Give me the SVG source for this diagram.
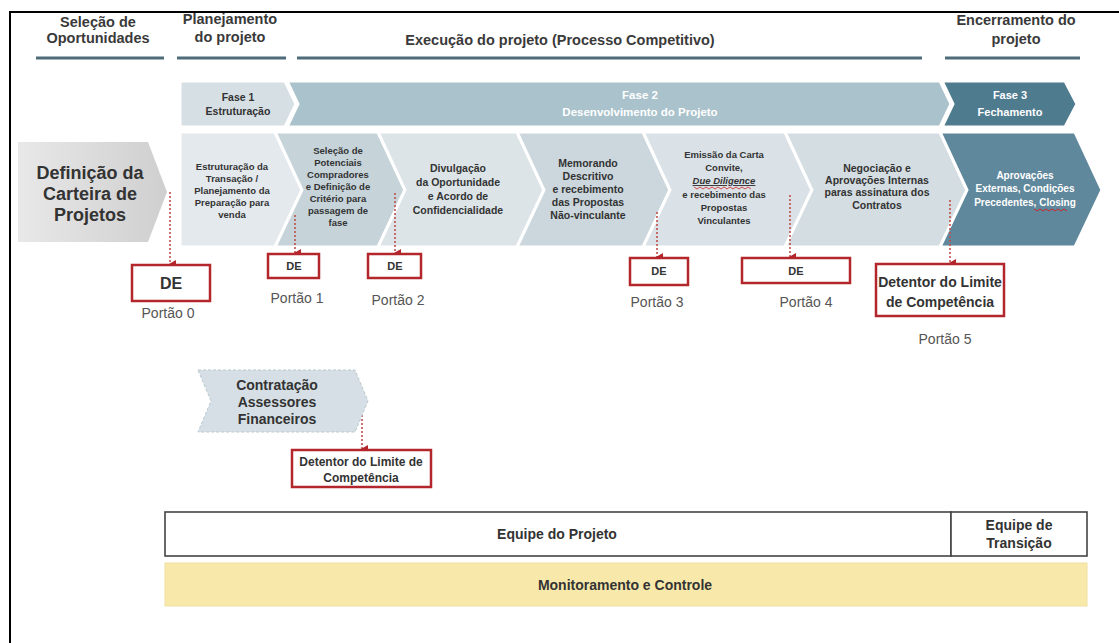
<svg xmlns="http://www.w3.org/2000/svg" width="1119" height="643" viewBox="0 0 1119 643">
<defs>
<marker id="arr" markerWidth="8" markerHeight="8" refX="4" refY="6" orient="auto-start-reverse" markerUnits="userSpaceOnUse" viewBox="0 0 8 8"><path d="M0,0 L8,0 L4,7 Z" fill="#b3262b"/></marker>
<linearGradient id="gdef" x1="0" y1="0" x2="1" y2="0"><stop offset="0" stop-color="#e8e8e8"/><stop offset="1" stop-color="#cfcfcf"/></linearGradient>
<style>
text{font-family:"Liberation Sans",Arial,sans-serif;font-weight:bold;text-anchor:middle;fill:#333}
.hdr{font-size:14.5px;fill:#3a3a3a}
.ul{stroke:#4e6c7a;stroke-width:3}
.ph{stroke:#fff;stroke-width:3}
.seg{stroke:#fff;stroke-width:3}
.s1{font-size:9.5px}
.s2{font-size:10.5px}
.w{fill:#fff}
.de{fill:#fff;stroke:#b3262b;stroke-width:2.5}
.gate{font-weight:normal;font-size:14px;fill:#555}
.con{stroke:#c0504d;stroke-width:1.6;stroke-dasharray:2 2;fill:none}
.team{fill:#fff;stroke:#444;stroke-width:1.6}
</style>
</defs>
<rect x="0" y="0" width="1119" height="643" fill="#fff"/>
<path d="M10,643 V12 H1119" fill="none" stroke="#000" stroke-width="2"/>

<g id="header">
<text class="hdr" x="98" y="27">Seleção de</text>
<text class="hdr" x="98" y="43">Oportunidades</text>
<line class="ul" x1="36" y1="58" x2="164" y2="58"/>
<text class="hdr" x="230" y="24">Planejamento</text>
<text class="hdr" x="230" y="42">do projeto</text>
<line class="ul" x1="177" y1="58" x2="286" y2="58"/>
<text class="hdr" x="560" y="45">Execução do projeto (Processo Competitivo)</text>
<line class="ul" x1="297" y1="58" x2="922" y2="58"/>
<text class="hdr" x="1016" y="25">Encerramento do</text>
<text class="hdr" x="1016" y="44">projeto</text>
<line class="ul" x1="945" y1="58" x2="1080" y2="58"/>
</g>

<g id="fase1">
<path class="ph" d="M180,81 H285 L296,104 L285,127 H180 Z" fill="#d6dfe4"/>
<text x="238" y="101" style="font-size:10.5px">Fase 1</text>
<text x="238" y="115" style="font-size:10.5px">Estruturação</text>
</g>
<g id="fase2">
<path class="ph" d="M287,81 H940 L951,104 L940,127 H287 L298,104 Z" fill="#a9c2cb"/>
<text class="w" x="640" y="99" style="font-size:11.5px">Fase 2</text>
<text class="w" x="640" y="116" style="font-size:11.5px">Desenvolvimento do Projeto</text>
</g>
<g id="fase3">
<path class="ph" d="M942,81 H1065 L1077,104 L1065,127 H942 L953,104 Z" fill="#4f7b8f"/>
<text class="w" x="1010" y="99" style="font-size:11px">Fase 3</text>
<text class="w" x="1010" y="116" style="font-size:11px">Fechamento</text>
</g>

<g id="definicao">
<path d="M18,142 H148 L167,192 L148,242 H18 Z" fill="url(#gdef)"/>
<text x="90" y="179" style="font-size:18px">Definição da</text>
<text x="90" y="200" style="font-size:18px">Carteira de</text>
<text x="90" y="221" style="font-size:18px">Projetos</text>
</g>

<g id="seg1">
<path class="seg" d="M180,132 H275 L302,190 L275,247 H180 Z" fill="#e3e9ed"/>
<text class="s1" x="232" y="170">Estruturação da</text>
<text class="s1" x="232" y="182">Transação /</text>
<text class="s1" x="232" y="194">Planejamento da</text>
<text class="s1" x="232" y="206">Preparação para</text>
<text class="s1" x="232" y="218">venda</text>
</g>
<g id="seg2">
<path class="seg" d="M275,132 H378 L405,190 L378,247 H275 L302,190 Z" fill="#c6d4da"/>
<text class="s1" x="338" y="154">Seleção de</text>
<text class="s1" x="338" y="166">Potenciais</text>
<text class="s1" x="338" y="178">Compradores</text>
<text class="s1" x="338" y="190">e Definição de</text>
<text class="s1" x="338" y="202">Critério para</text>
<text class="s1" x="338" y="214">passagem de</text>
<text class="s1" x="338" y="226">fase</text>
</g>
<g id="seg3">
<path class="seg" d="M378,132 H517 L544,190 L517,247 H378 L405,190 Z" fill="#dce4e8"/>
<text class="s2" x="458" y="172">Divulgação</text>
<text class="s2" x="458" y="186">da Oportunidade</text>
<text class="s2" x="458" y="200">e Acordo  de</text>
<text class="s2" x="458" y="214">Confidencialidade</text>
</g>
<g id="seg4">
<path class="seg" d="M517,132 H643 L670,190 L643,247 H517 L544,190 Z" fill="#cbd7dd"/>
<text class="s2" x="588" y="167">Memorando</text>
<text class="s2" x="588" y="180">Descritivo</text>
<text class="s2" x="588" y="193">e recebimento</text>
<text class="s2" x="588" y="206">das Propostas</text>
<text class="s2" x="588" y="219">Não-vinculante</text>
</g>
<g id="seg5">
<path class="seg" d="M643,132 H785 L812,190 L785,247 H643 L670,190 Z" fill="#dae2e7"/>
<text class="s1" x="724" y="158">Emissão da Carta</text>
<text class="s1" x="724" y="171">Convite,</text>
<text class="s1" x="724" y="184" style="font-style:italic;text-decoration:underline">Due Diligence</text>
<path d="M694,187 l3,2 l3,-2 l3,2 l3,-2 l3,2 l3,-2 l3,2 l3,-2 l3,2 l3,-2 l3,2 l3,-2 l3,2 l3,-2 l3,2 l3,-2 l3,2 l3,-2 l3,2" fill="none" stroke="#d02020" stroke-width="0.8"/>
<text class="s1" x="724" y="198">e recebimento das</text>
<text class="s1" x="724" y="211">Propostas</text>
<text class="s1" x="724" y="224">Vinculantes</text>
</g>
<g id="seg6">
<path class="seg" d="M785,132 H940 L967,190 L940,247 H785 L812,190 Z" fill="#d3dde2"/>
<text class="s2" x="877" y="172">Negociação e</text>
<text class="s2" x="877" y="184">Aprovações Internas</text>
<text class="s2" x="877" y="196">paras assinatura dos</text>
<text class="s2" x="877" y="209">Contratos</text>
</g>
<g id="seg7">
<path class="seg" d="M940,132 H1075 L1102,190 L1075,247 H940 L967,190 Z" fill="#5f889c"/>
<text class="w" x="1025" y="179" style="font-size:10px">Aprovações</text>
<text class="w" x="1025" y="192" style="font-size:10px">Externas, Condições</text>
<text class="w" x="1025" y="206" style="font-size:10px">Precedentes, Closing</text>
<path d="M1034,209 l3,2 l3,-2 l3,2 l3,-2 l3,2 l3,-2 l3,2 l3,-2 l3,2 l3,-2 l3,2" fill="none" stroke="#d02020" stroke-width="0.9"/>
</g>

<g id="connectors">
<line class="con" x1="170" y1="192" x2="170" y2="264" marker-end="url(#arr)"/>
<line class="con" x1="295" y1="215" x2="295" y2="253" marker-end="url(#arr)"/>
<line class="con" x1="395" y1="193" x2="395" y2="253" marker-end="url(#arr)"/>
<line class="con" x1="657" y1="212" x2="657" y2="257" marker-end="url(#arr)"/>
<line class="con" x1="790" y1="195" x2="790" y2="257" marker-end="url(#arr)"/>
<line class="con" x1="950" y1="200" x2="950" y2="263" marker-end="url(#arr)"/>
<line class="con" x1="362" y1="403" x2="362" y2="449" marker-end="url(#arr)"/>
</g>

<g id="portao0">
<rect class="de" x="132" y="265" width="78" height="36"/>
<text x="171" y="289" style="font-size:16px">DE</text>
<text class="gate" x="168" y="318">Portão 0</text>
</g>
<g id="portao1">
<rect class="de" x="268" y="254" width="51" height="24"/>
<text x="294" y="270" style="font-size:11px">DE</text>
<text class="gate" x="297" y="303">Portão 1</text>
</g>
<g id="portao2">
<rect class="de" x="368" y="254" width="53" height="24"/>
<text x="395" y="270" style="font-size:11px">DE</text>
<text class="gate" x="398" y="305">Portão 2</text>
</g>
<g id="portao3">
<rect class="de" x="630" y="258" width="58" height="27"/>
<text x="659" y="275" style="font-size:11px">DE</text>
<text class="gate" x="657" y="307">Portão 3</text>
</g>
<g id="portao4">
<rect class="de" x="742" y="258" width="108" height="25"/>
<text x="796" y="275" style="font-size:11px">DE</text>
<text class="gate" x="806" y="307">Portão 4</text>
</g>
<g id="portao5">
<rect class="de" x="876" y="264" width="128" height="52"/>
<text x="940" y="287" style="font-size:14px">Detentor do Limite</text>
<text x="940" y="307" style="font-size:14px">de Competência</text>
<text class="gate" x="945" y="344">Portão 5</text>
</g>

<g id="contratacao">
<path d="M198,370 H355 L368,401 L355,432 H198 L211,401 Z" fill="#d5dfe5" stroke="#b9c7ce" stroke-width="1" stroke-dasharray="3 2"/>
<text x="277" y="390" style="font-size:14px">Contratação</text>
<text x="277" y="407" style="font-size:14px">Assessores</text>
<text x="277" y="424" style="font-size:14px">Financeiros</text>
</g>
<g id="detentor-contratacao">
<rect class="de" x="292" y="450" width="139" height="37"/>
<text x="361" y="466" style="font-size:12px">Detentor do Limite de</text>
<text x="361" y="482" style="font-size:12px">Competência</text>
</g>

<g id="equipe-projeto">
<rect class="team" x="165" y="512" width="786" height="44"/>
<text x="557" y="539" style="font-size:14px">Equipe do Projeto</text>
</g>
<g id="equipe-transicao">
<rect class="team" x="951" y="512" width="136" height="44"/>
<text x="1019" y="530" style="font-size:14px">Equipe de</text>
<text x="1019" y="548" style="font-size:14px">Transição</text>
</g>
<g id="monitoramento">
<rect x="165" y="563" width="922" height="43" fill="#f8e9ab" stroke="#efe0a0" stroke-width="1"/>
<text x="625" y="590" style="font-size:14px">Monitoramento e Controle</text>
</g>
</svg>
